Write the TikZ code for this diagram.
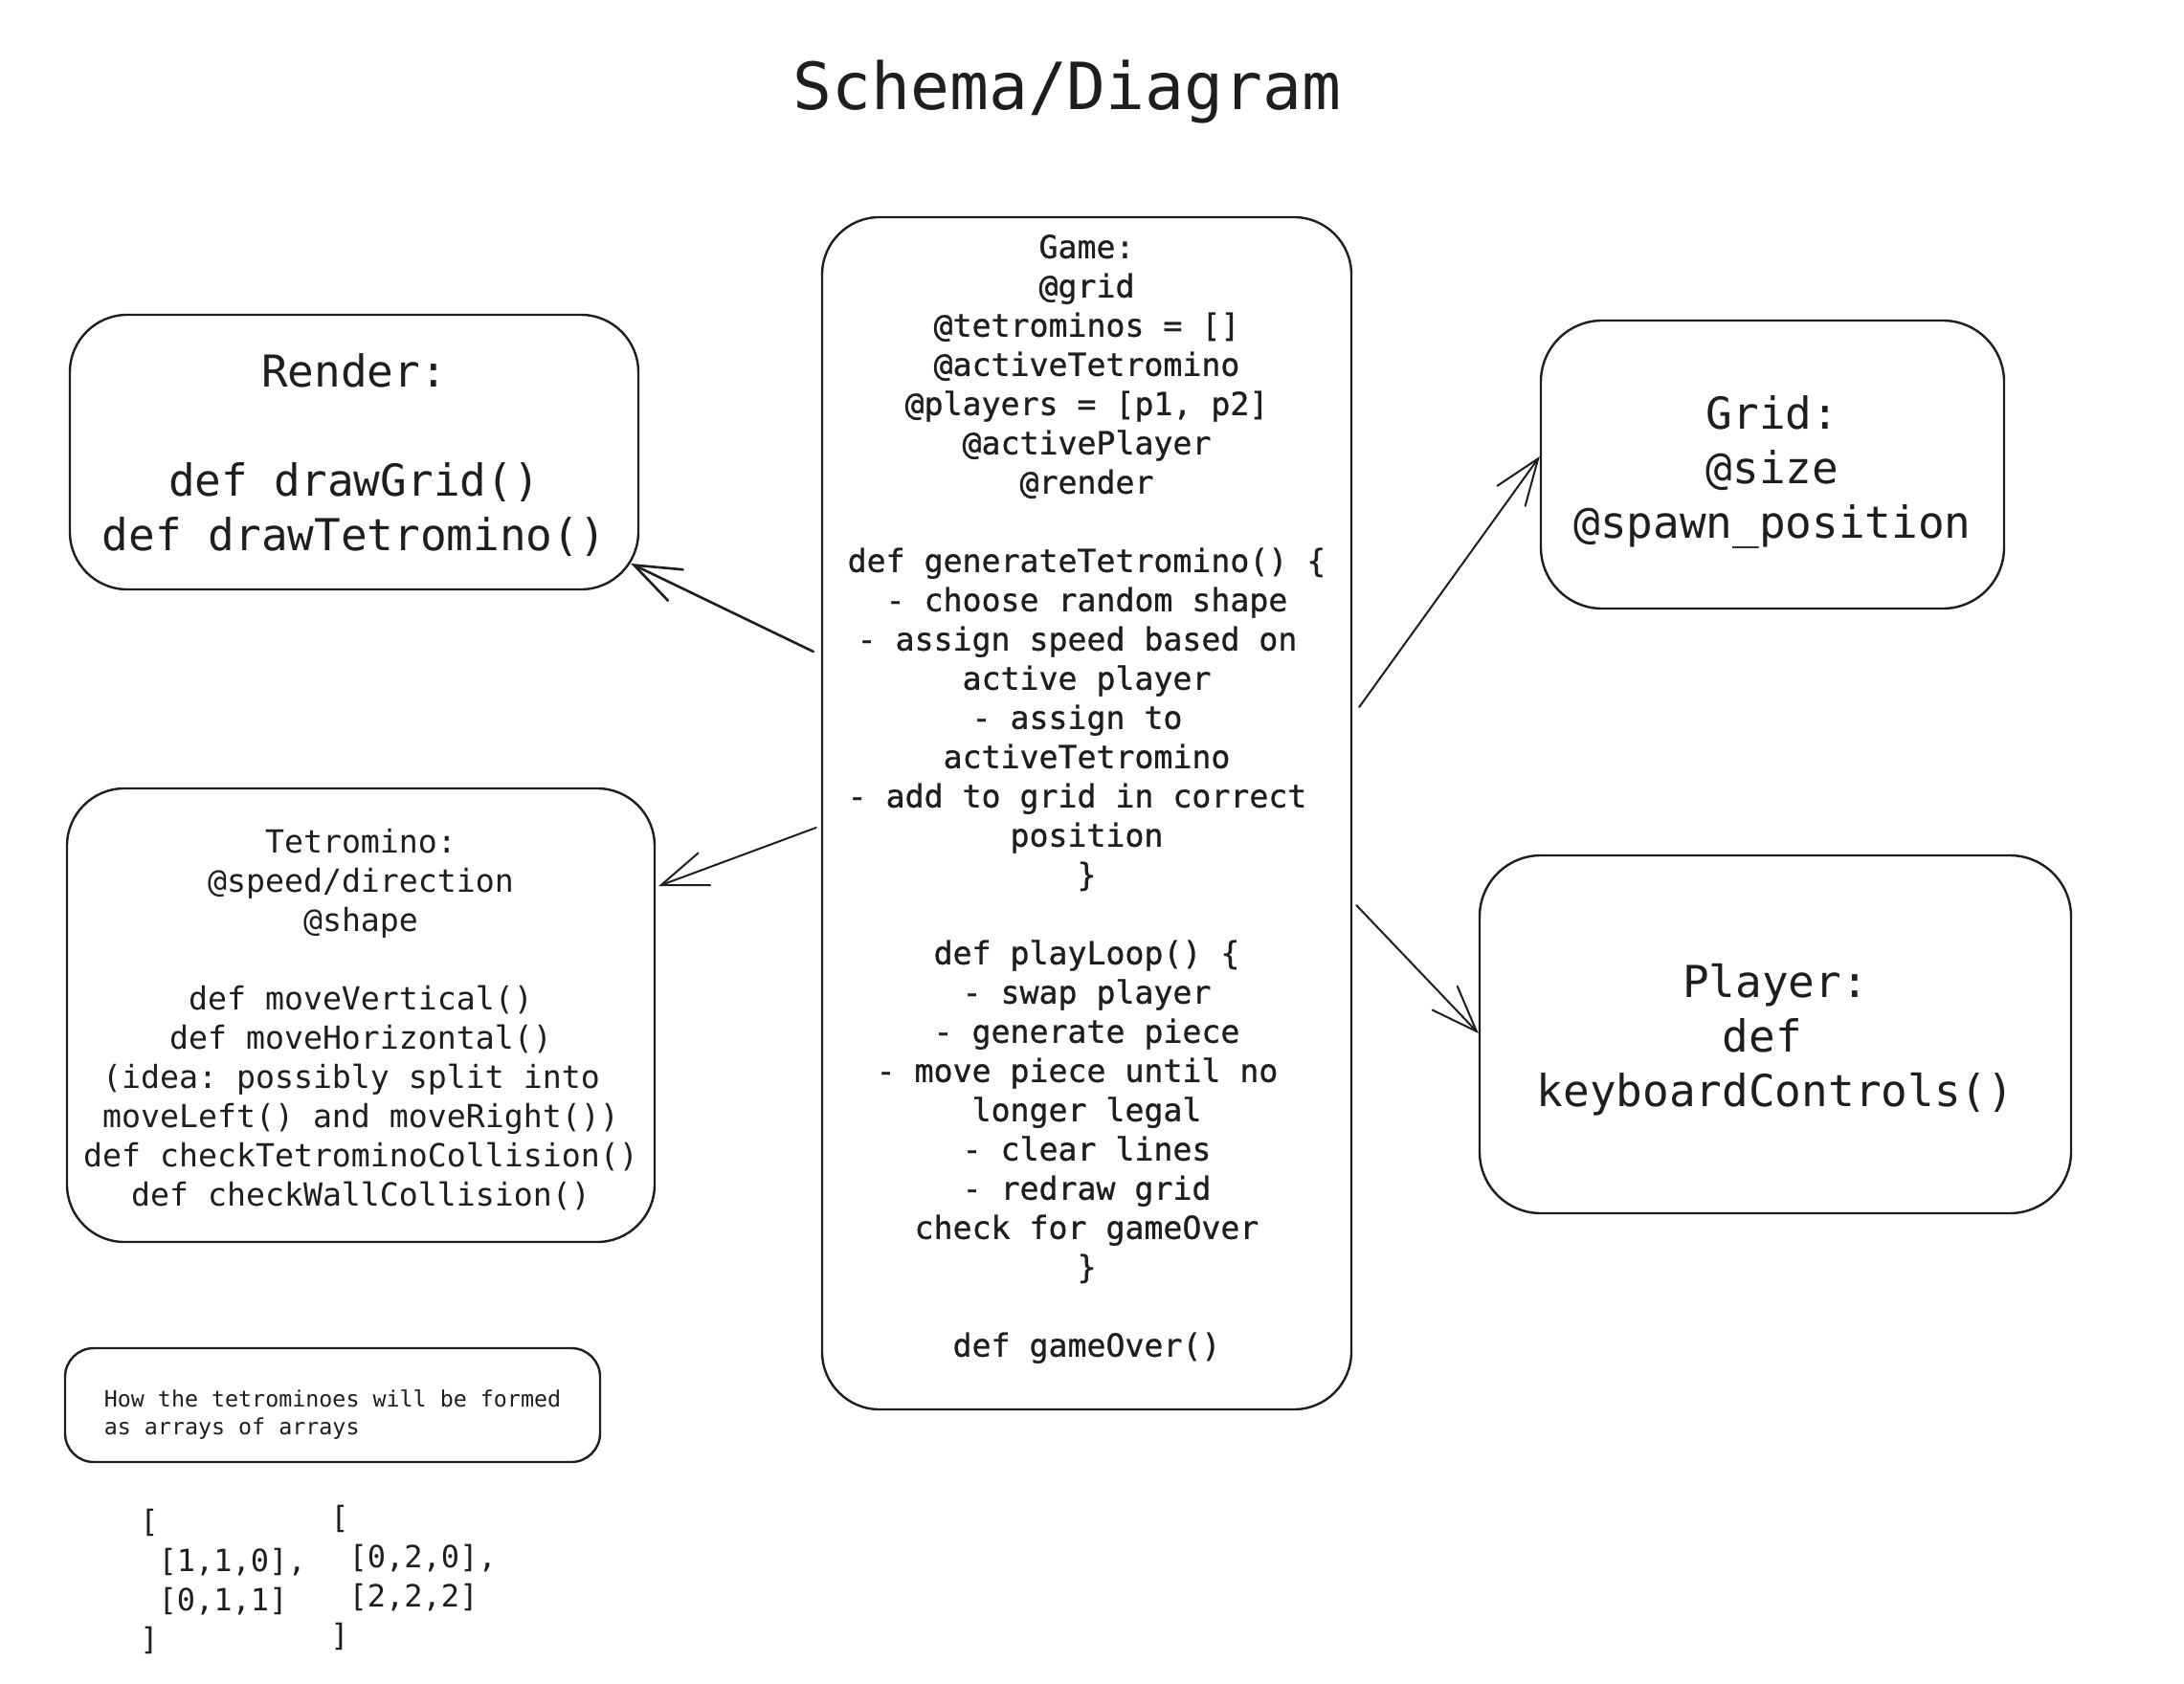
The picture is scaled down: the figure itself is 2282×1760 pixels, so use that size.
\documentclass[tikz,border=0pt]{standalone}
\usepackage{fontspec}
\setmonofont{DejaVu Sans Mono}
\newfontfamily\gamefont[FakeBold=0.8]{DejaVu Sans Mono}
\usetikzlibrary{arrows.meta,calc}
\definecolor{ink}{HTML}{1E1E1E}
\newcommand{\trsp}{\hphantom{0}}
\begin{document}
\begin{tikzpicture}[x=0.5pt,y=-0.5pt,
  box/.style={draw=ink, line width=1.2pt, rounded corners=30pt, inner sep=0pt},
  txt/.style={text=ink, align=center, inner sep=0pt},
  bigtxt/.style={txt, font=\fontsize{23}{28.5}\selectfont\ttfamily},
  smalltxt/.style={txt, font=\fontsize{16.6}{20.5}\selectfont\ttfamily},
  arrtxt/.style={font=\fontsize{16}{20.5}\selectfont\ttfamily, text=ink, align=left, inner sep=0pt, anchor=west},
  conn/.style={draw=ink, line width=1pt, line cap=round, line join=round, -{Straight Barb[length=24pt,width=18pt,line cap=round]}}]

\useasboundingbox[fill=white] (0,0) rectangle (2282,1760);

\node[font=\fontsize{34}{40}\selectfont\ttfamily, text=ink, anchor=base] (title) at (1115,115) {Schema/Diagram};

% boxes
\node[box, minimum width=297pt, minimum height=143.5pt] (render) at (370,472.5) {};
\node[box, minimum width=276.5pt, minimum height=623pt] (game) at (1135.5,850) {};
\node[box, rounded corners=32pt, minimum width=242pt, minimum height=150.5pt] (grid) at (1852,485.5) {};
\node[box, minimum width=307pt, minimum height=237pt] (tetro) at (377,1061) {};
\node[box, rounded corners=32pt, minimum width=309pt, minimum height=187pt] (player) at (1855,1081) {};
\node[box, rounded corners=15pt, minimum width=279.5pt, minimum height=59.5pt] (note) at (347.5,1468.5) {};

% texts
\node[bigtxt] (rendertext) at (370,475.5)
  {Render:\\[28.5pt]def drawGrid()\\def drawTetromino()};

\node[smalltxt, font=\fontsize{16.6}{20.5}\selectfont\gamefont] (gametext) at (1135.5,835)
  {Game:\\@grid\\@tetrominos = []\\@activeTetromino\\@players = [p1, p2]\\@activePlayer\\@render\\[20.5pt]def generateTetromino() \{\\- choose random shape\\- assign speed based on\trsp\\active player\\- assign to\trsp\\activeTetromino\\- add to grid in correct\trsp\\position\\\}\\[20.5pt]def playLoop() \{\\- swap player\\- generate piece\\- move piece until no\trsp\\longer legal\\- clear lines\\- redraw grid\\check for gameOver\\\}\\[20.5pt]def gameOver()};

\node[bigtxt] (gridtext) at (1852,493)
  {Grid:\\@size\\@spawn\_position};

\node[smalltxt] (tetrotext) at (377,1066)
  {Tetromino:\\@speed/direction\\@shape\\[20.5pt]def moveVertical()\\def moveHorizontal()\\(idea: possibly split into\trsp\\moveLeft() and moveRight())\\def checkTetrominoCollision()\\def checkWallCollision()};

\node[bigtxt] (playertext) at (1855,1087)
  {Player:\\def\trsp\\keyboardControls()};

\node[txt, align=left, font=\fontsize{11.66}{14.5}\selectfont\ttfamily] (notetext) at (347.5,1478)
  {How the tetrominoes will be formed\\as arrays of arrays};

\node[arrtxt] (arrA) at (146,1653) {{[}\\\hphantom{0}[1,1,0],\\\hphantom{0}[0,1,1]\\{]}};
\node[arrtxt] (arrB) at (345,1649) {{[}\\\hphantom{0}[0,2,0],\\\hphantom{0}[2,2,2]\\{]}};

% connectors
\draw[conn, line width=1.3pt] ($(game.west)+(-8,-169)$) -- ($(render.east)+(-9,116.5)$);
\draw[conn] ($(game.west)+(-5,15)$) -- ($(tetro.east)+(3,-135)$);
\draw[conn] ($(game.east)+(7,-111)$) -- ($(grid.west)+(0,-8.5)$);
\draw[conn] ($(game.east)+(4,96)$) -- ($(player.west)+(0,-1)$);
\end{tikzpicture}
\end{document}
